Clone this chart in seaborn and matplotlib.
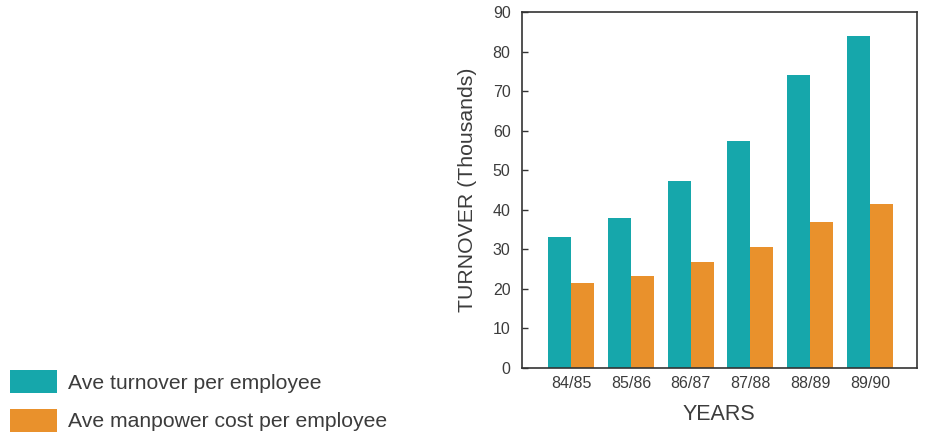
import matplotlib
matplotlib.use("Agg")
import matplotlib.pyplot as plt
import matplotlib.patches as mpatches
import seaborn as sns
import pandas as pd

years = ["84/85", "85/86", "86/87", "87/88", "88/89", "89/90"]
turnover = [33, 38, 47.3, 57.4, 74.1, 83.9]
manpower_cost = [21.5, 23.2, 26.9, 30.6, 36.8, 41.5]
series_names = ["Ave turnover per employee", "Ave manpower cost per employee"]
y_ticks = [0, 10, 20, 30, 40, 50, 60, 70, 80, 90]

teal = "#16a7ab"
orange = "#e9912c"
text_col = "#3c3c3c"

df = pd.DataFrame({
    "year": years * 2,
    "value": turnover + manpower_cost,
    "series": [series_names[0]] * len(years) + [series_names[1]] * len(years),
})

sns.set_style("white")
plt.rcParams["font.family"] = ["Liberation Sans", "DejaVu Sans"]

fig = plt.figure(figsize=(9.3, 4.41), dpi=100)
ax = fig.add_axes([0.561, 0.1655, 0.425, 0.8073])

sns.barplot(data=df, x="year", y="value", hue="series",
            palette=[teal, orange], width=0.77, saturation=1,
            linewidth=0, ax=ax, legend=False)

ax.set_ylim(0, 90)
ax.set_xlim(-0.83, 5.79)
ax.set_yticks(y_ticks)
ax.set_yticklabels([str(t) for t in y_ticks], fontsize=11.5, color=text_col)
ax.set_xticks(range(len(years)))
ax.set_xticklabels(years, fontsize=11.5, color=text_col)
ax.tick_params(axis="y", direction="in", length=4, width=1, color="#333333", pad=8, left=True)
ax.tick_params(axis="x", length=0, pad=6)
for s in ax.spines.values():
    s.set_visible(True)
    s.set_color("#333333")
    s.set_linewidth(1.2)

ax.set_xlabel("YEARS", fontsize=15.5, color=text_col, labelpad=9)
ax.set_ylabel("TURNOVER (Thousands)", fontsize=15.3, color=text_col, labelpad=11)

handles = [mpatches.Patch(facecolor=teal, edgecolor="none"),
           mpatches.Patch(facecolor=orange, edgecolor="none")]
fig.legend(handles, series_names, loc="upper left",
           bbox_to_anchor=(10 / 930, (441 - 370) / 441),
           borderaxespad=0, borderpad=0,
           frameon=False, fontsize=15.2, handlelength=2.23, handleheight=1.3,
           labelspacing=0.75, handletextpad=0.52, labelcolor=text_col)

fig.savefig("out.png", dpi=100)
